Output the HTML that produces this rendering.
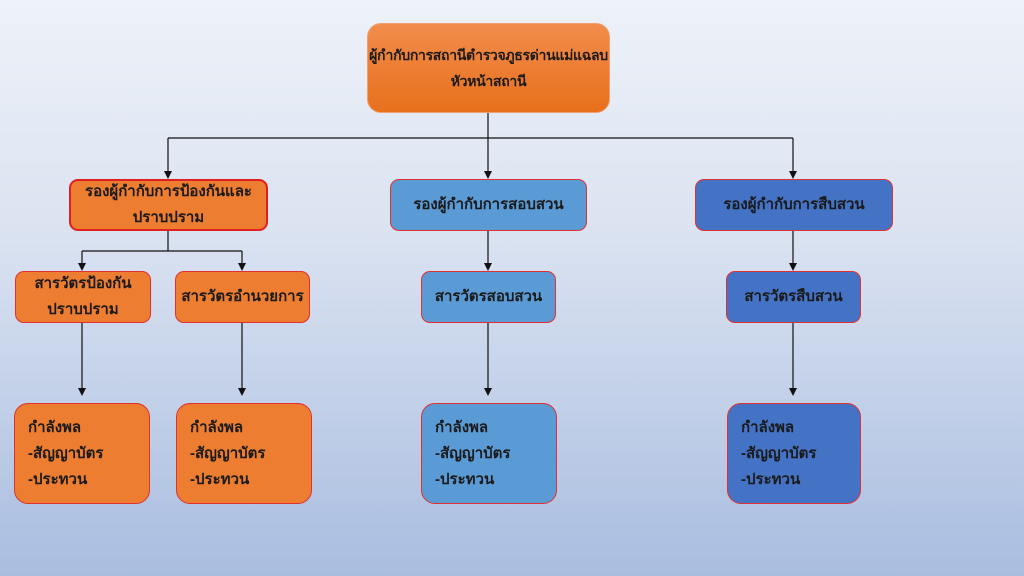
<!DOCTYPE html><html><head><meta charset="utf-8"><style>
body{margin:0;width:1024px;height:576px;overflow:hidden;background:linear-gradient(#eef2f9,#dbe3f1 40%,#a9bde0);font-family:"Liberation Sans","DejaVu Sans",sans-serif;position:relative}
.b{position:absolute;box-sizing:border-box;display:flex;align-items:center;justify-content:center;text-align:center;font-weight:bold;font-size:15px;line-height:26px;color:#1a1a1a;border-radius:9px;border:1px solid #e03030;white-space:nowrap}
.o{background:#ed7d31}.l{background:#5b9bd5}.d{background:#4472c4}
.t{justify-content:flex-start;text-align:left;padding-left:13px;border-radius:14px}
svg{position:absolute;left:0;top:0}
</style></head><body>
<svg width="1024" height="576">
<g stroke="#111" stroke-width="1.2" fill="none">
<path d="M488,112V138M168,138H793"/>
<path d="M168,138V172M488,138V172M793,138V172"/>
<path d="M168,230V251M82,251H242"/>
<path d="M82,251V264M242,251V264M488,230V264M793,230V264"/>
<path d="M82,322V389M242,322V389M488,322V389M793,322V389"/>
</g>
<g fill="#111">
<path d="M164,171h8l-4,8z"/><path d="M484,171h8l-4,8z"/><path d="M789,171h8l-4,8z"/>
<path d="M78,263h8l-4,8z"/><path d="M238,263h8l-4,8z"/><path d="M484,263h8l-4,8z"/><path d="M789,263h8l-4,8z"/>
<path d="M78,388h8l-4,8z"/><path d="M238,388h8l-4,8z"/><path d="M484,388h8l-4,8z"/><path d="M789,388h8l-4,8z"/>
</g></svg>
<div class="b" style="left:367px;top:23px;width:243px;height:90px;border-radius:14px;background:linear-gradient(#f28c4c,#e8701c);border-color:#f0a070;font-size:14px;letter-spacing:-0.3px">ผู้กำกับการสถานีตำรวจภูธรด่านแม่แฉลบ<br>หัวหน้าสถานี</div>
<div class="b o" style="left:69px;top:179px;width:199px;height:52px;border:2px solid #e02020">รองผู้กำกับการป้องกันและ<br>ปราบปราม</div>
<div class="b l" style="left:390px;top:179px;width:197px;height:52px">รองผู้กำกับการสอบสวน</div>
<div class="b d" style="left:695px;top:179px;width:198px;height:52px">รองผู้กำกับการสืบสวน</div>
<div class="b o" style="left:15px;top:271px;width:136px;height:52px">สารวัตรป้องกัน<br>ปราบปราม</div>
<div class="b o" style="left:175px;top:271px;width:135px;height:52px">สารวัตรอำนวยการ</div>
<div class="b l" style="left:421px;top:271px;width:135px;height:52px">สารวัตรสอบสวน</div>
<div class="b d" style="left:726px;top:271px;width:135px;height:52px">สารวัตรสืบสวน</div>
<div class="b o t" style="left:14px;top:403px;width:136px;height:101px">กำลังพล<br>-สัญญาบัตร<br>-ประทวน</div>
<div class="b o t" style="left:176px;top:403px;width:136px;height:101px">กำลังพล<br>-สัญญาบัตร<br>-ประทวน</div>
<div class="b l t" style="left:421px;top:403px;width:136px;height:101px">กำลังพล<br>-สัญญาบัตร<br>-ประทวน</div>
<div class="b d t" style="left:727px;top:403px;width:134px;height:101px">กำลังพล<br>-สัญญาบัตร<br>-ประทวน</div>
</body></html>
